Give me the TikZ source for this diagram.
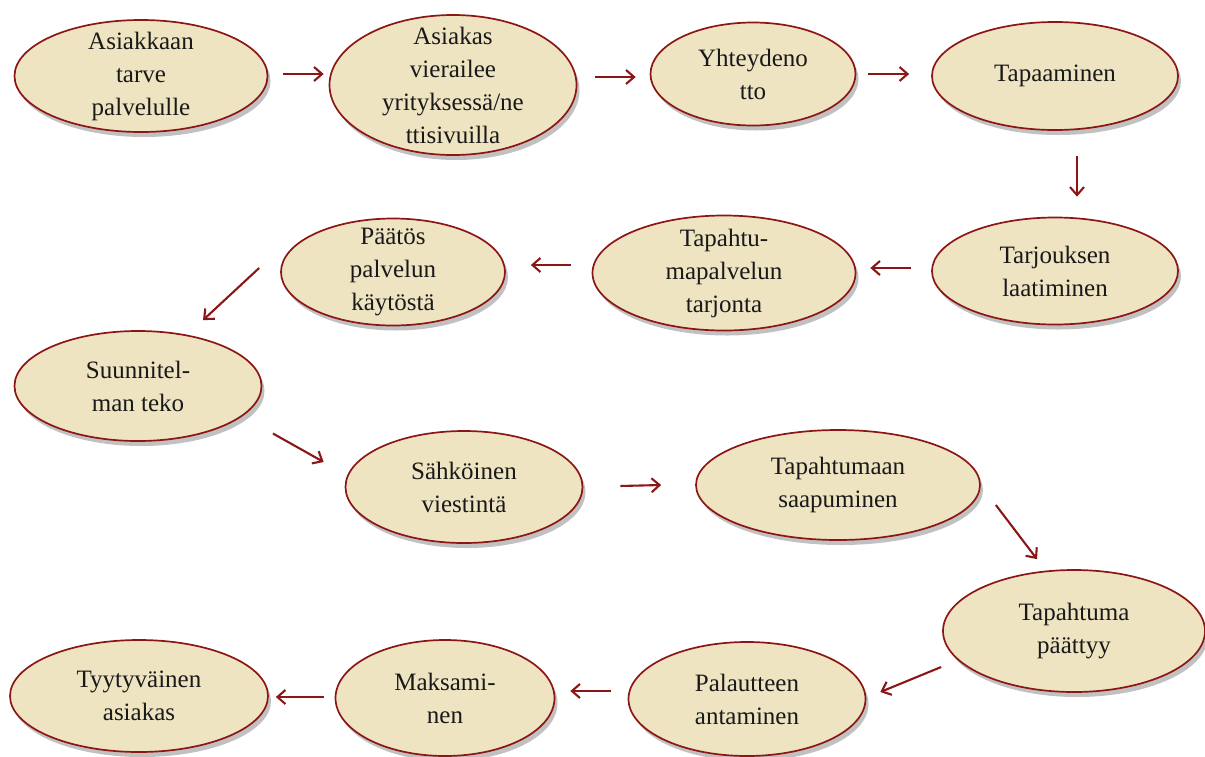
\documentclass[tikz,border=0pt]{standalone}
\usepackage{fontspec}
\setmainfont{Liberation Serif}
\usetikzlibrary{arrows.meta,shapes.geometric,shadows}

\definecolor{kerma}{RGB}{238,228,194}
\definecolor{viini}{RGB}{140,22,22}

\begin{document}
\begin{tikzpicture}[x=1pt, y=-1pt, >={Straight Barb[length=8pt,width=14pt]},
    vaihe/.style={ellipse, draw=viini, line width=1.7pt, fill=kerma, inner sep=-15pt,
        align=center, font=\fontsize{25}{33}\selectfont, text=black!90,
        drop shadow={shadow xshift=3pt, shadow yshift=-5pt, opacity=0.35, fill=black!70}},
    nuoli/.style={->, draw=viini, line width=2.1pt}]
    \useasboundingbox (0,0) rectangle (1205,756);

    % ylärivi
    \node[vaihe, minimum width=253pt, minimum height=112pt] (tarve) at (141,76) {Asiakkaan\\tarve\\palvelulle};
    \node[vaihe, minimum width=247pt, minimum height=140pt] (vierailu) at (453,85) {Asiakas\\vierailee\\yrityksessä/ne\\ttisivuilla};
    \node[vaihe, minimum width=205pt, minimum height=103pt] (yhteys) at (753,74) {Yhteydeno\\tto};
    \node[vaihe, minimum width=246pt, minimum height=108pt] (tapaaminen) at (1055,76) {Tapaaminen};

    % toinen rivi
    \node[vaihe, minimum width=246pt, minimum height=107pt] (tarjous) at (1055,271) {Tarjouksen\\laatiminen};
    \node[vaihe, minimum width=263pt, minimum height=115pt] (tarjonta) at (724,273) {Tapahtu-\\mapalvelun\\tarjonta};
    \node[vaihe, minimum width=224pt, minimum height=107pt] (paatos) at (393,272) {Päätös\\palvelun\\käytöstä};
    \node[vaihe, minimum width=247pt, minimum height=110pt] (suunnitelma) at (138,386) {Suunnitel-\\man teko};

    % kolmas rivi
    \node[vaihe, minimum width=237pt, minimum height=112pt] (viestinta) at (464,487) {Sähköinen\\viestintä};
    \node[vaihe, minimum width=284pt, minimum height=110pt] (saapuminen) at (838,485) {Tapahtumaan\\saapuminen};
    \node[vaihe, minimum width=262pt, minimum height=122pt] (paattyy) at (1074,631) {Tapahtuma\\päättyy};

    % alarivi
    \node[vaihe, minimum width=237pt, minimum height=114pt] (palaute) at (747,699) {Palautteen\\antaminen};
    \node[vaihe, minimum width=219pt, minimum height=116pt] (maksu) at (445,698) {Maksami-\\nen};
    \node[vaihe, minimum width=258pt, minimum height=112pt] (tyytyvainen) at (139,696) {Tyytyväinen\\asiakas};

    % nuolet
    \draw[nuoli] ([xshift=15pt,yshift=2pt]tarve.east) -- ([xshift=-5pt,yshift=11pt]vierailu.west);
    \draw[nuoli] ([xshift=18pt,yshift=8pt]vierailu.east) -- ([xshift=-14pt,yshift=-3pt]yhteys.west);
    \draw[nuoli] ([xshift=12pt]yhteys.east) -- ([xshift=-22pt,yshift=2pt]tapaaminen.west);
    \draw[nuoli] ([xshift=22pt,yshift=-25pt]tapaaminen.south) -- ([xshift=22pt,yshift=20pt]tarjous.north);
    \draw[nuoli] ([xshift=-20pt,yshift=3pt]tarjous.west) -- ([xshift=14pt,yshift=5pt]tarjonta.east);
    \draw[nuoli] ([xshift=-21pt,yshift=8pt]tarjonta.west) -- ([xshift=25pt,yshift=7pt]paatos.east);
    \draw[nuoli] ([xshift=-21pt,yshift=4pt]paatos.west) -- ([xshift=65pt,yshift=10pt]suunnitelma.north);
    \draw[nuoli] ([xshift=47pt,yshift=-8pt]suunnitelma.south east) -- ([xshift=-21pt,yshift=25pt]viestinta.west);
    \draw[nuoli] ([xshift=37pt,yshift=1pt]viestinta.east) -- ([xshift=-34pt]saapuminen.west);
    \draw[nuoli] ([xshift=15pt,yshift=-20pt]saapuminen.east) -- ([xshift=-37pt,yshift=10pt]paattyy.north);
    \draw[nuoli] ([xshift=-1pt,yshift=-36pt]paattyy.west) -- ([xshift=14pt,yshift=7pt]palaute.east);
    \draw[nuoli] ([xshift=-17pt,yshift=8pt]palaute.west) -- ([xshift=15pt,yshift=7pt]maksu.east);
    \draw[nuoli] ([xshift=-11pt,yshift=1pt]maksu.west) -- ([xshift=7pt,yshift=-1pt]tyytyvainen.east);
\end{tikzpicture}
\end{document}
